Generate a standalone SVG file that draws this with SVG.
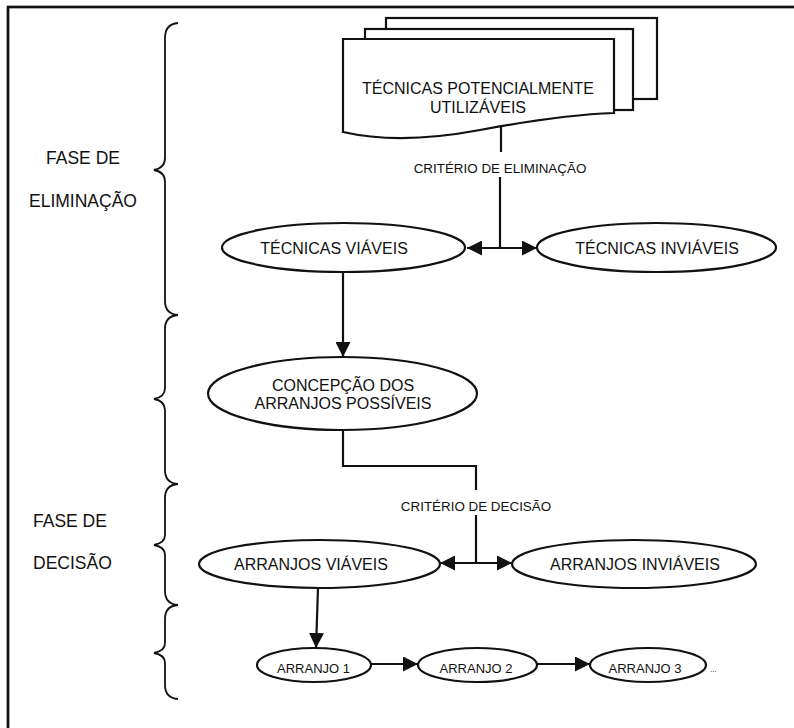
<svg xmlns="http://www.w3.org/2000/svg" width="794" height="728" viewBox="0 0 794 728">
<style>
  text { font-family: "Liberation Sans", Arial, sans-serif; fill: #111; }
  .shape { fill: #fff; stroke: #111; stroke-width: 2.2; }
  .brace { fill: none; stroke: #111; stroke-width: 1.8; }
  .conn { fill: none; stroke: #111; stroke-width: 2.2; }
  .lbl { font-size: 16px; text-anchor: middle; }
  .crit { font-size: 13.4px; text-anchor: middle; }
  .small { font-size: 13px; text-anchor: middle; }
  .phase { font-size: 17.5px; }
</style>
<defs>
  <marker id="ah" viewBox="0 0 15 15" refX="15" refY="7.5" markerWidth="15" markerHeight="15" orient="auto-start-reverse" markerUnits="userSpaceOnUse">
    <path d="M0,0 L15,7.5 L0,15 z" fill="#111"/>
  </marker>
</defs>
<rect width="794" height="728" fill="#fff"/>
<rect id="frame" x="8" y="7" width="820" height="800" fill="none" stroke="#111" stroke-width="2.7"/>

<g id="braces">
  <path class="brace" d="M178,23 Q165,24 165,38 V158 Q165,168 154,170 Q165,172 165,182 V301 Q165,314 178,315"/>
  <path class="brace" d="M178,315 Q165,316 165,329 V388 Q165,397 154,399 Q165,401 165,410 V470 Q165,483 178,484"/>
  <path class="brace" d="M178,484 Q165,485 165,498 V535 Q165,543 154,545 Q165,547 165,555 V591 Q165,604 178,605"/>
  <path class="brace" d="M178,605 Q165,606 165,619 V643 Q165,651 154,653 Q165,655 165,663 V685 Q165,698 178,699"/>
</g>

<g id="phase-elim">
  <text class="phase" x="83" y="164" text-anchor="middle">FASE DE</text>
  <text class="phase" x="83" y="207" text-anchor="middle">ELIMINAÇÃO</text>
</g>
<g id="phase-dec">
  <text class="phase" x="33" y="527">FASE DE</text>
  <text class="phase" x="33" y="569">DECISÃO</text>
</g>

<g id="connectors">
  <line class="conn" x1="501" y1="126" x2="501" y2="152"/>
  <line class="conn" x1="500" y1="177" x2="500" y2="248"/>
  <line class="conn" x1="467" y1="248" x2="537" y2="248" marker-start="url(#ah)" marker-end="url(#ah)"/>
  <line class="conn" x1="343" y1="272" x2="343" y2="357" marker-end="url(#ah)"/>
  <polyline class="conn" points="343,430 343,466 476,466 476,490"/>
  <line class="conn" x1="476" y1="515" x2="476" y2="563"/>
  <line class="conn" x1="440" y1="563" x2="512" y2="563" marker-start="url(#ah)" marker-end="url(#ah)"/>
  <line class="conn" x1="318" y1="588" x2="316" y2="648" marker-end="url(#ah)"/>
  <line class="conn" x1="371" y1="664" x2="418" y2="664" marker-end="url(#ah)"/>
  <line class="conn" x1="537" y1="664" x2="590" y2="664" marker-end="url(#ah)"/>
  <text class="crit" x="500" y="173">CRITÉRIO DE ELIMINAÇÃO</text>
  <text class="crit" x="476" y="511">CRITÉRIO DE DECISÃO</text>
</g>

<g id="tecnicas-potenciais">
  <rect class="shape" x="386" y="18" width="271" height="81"/>
  <rect class="shape" x="365" y="29" width="268" height="81"/>
  <path class="shape" d="M343,39 H614 V113 Q560,115 480,130 Q400,145 343,132 Z"/>
  <text class="lbl" x="478" y="94">TÉCNICAS POTENCIALMENTE</text>
  <text class="lbl" x="478" y="113">UTILIZÁVEIS</text>
</g>

<g id="tecnicas-viaveis">
  <ellipse class="shape" cx="343.5" cy="247.5" rx="121.5" ry="24.5"/>
  <text class="lbl" x="334" y="253.5">TÉCNICAS VIÁVEIS</text>
</g>
<g id="tecnicas-inviaveis">
  <ellipse class="shape" cx="656.5" cy="247.5" rx="119.5" ry="24.5"/>
  <text class="lbl" x="657" y="253.5">TÉCNICAS INVIÁVEIS</text>
</g>
<g id="concepcao">
  <ellipse class="shape" cx="342.5" cy="393.5" rx="134.5" ry="36.5"/>
  <text class="lbl" x="343" y="391">CONCEPÇÃO DOS</text>
  <text class="lbl" x="343" y="409">ARRANJOS POSSÍVEIS</text>
</g>
<g id="arranjos-viaveis">
  <ellipse class="shape" cx="319.5" cy="564" rx="120.5" ry="24"/>
  <text class="lbl" x="311" y="569.5">ARRANJOS VIÁVEIS</text>
</g>
<g id="arranjos-inviaveis">
  <ellipse class="shape" cx="634" cy="564" rx="122" ry="24"/>
  <text class="lbl" x="635" y="569.5">ARRANJOS INVIÁVEIS</text>
</g>
<g id="arranjo1">
  <ellipse class="shape" cx="314" cy="665" rx="57" ry="17"/>
  <text class="small" x="313.5" y="673">ARRANJO 1</text>
</g>
<g id="arranjo2">
  <ellipse class="shape" cx="477.5" cy="665" rx="59.5" ry="17"/>
  <text class="small" x="476" y="673">ARRANJO 2</text>
</g>
<g id="arranjo3">
  <ellipse class="shape" cx="648" cy="665" rx="58" ry="17"/>
  <text class="small" x="645" y="673">ARRANJO 3</text>
</g>
<text x="710" y="672" font-size="8px">...</text>
</svg>
